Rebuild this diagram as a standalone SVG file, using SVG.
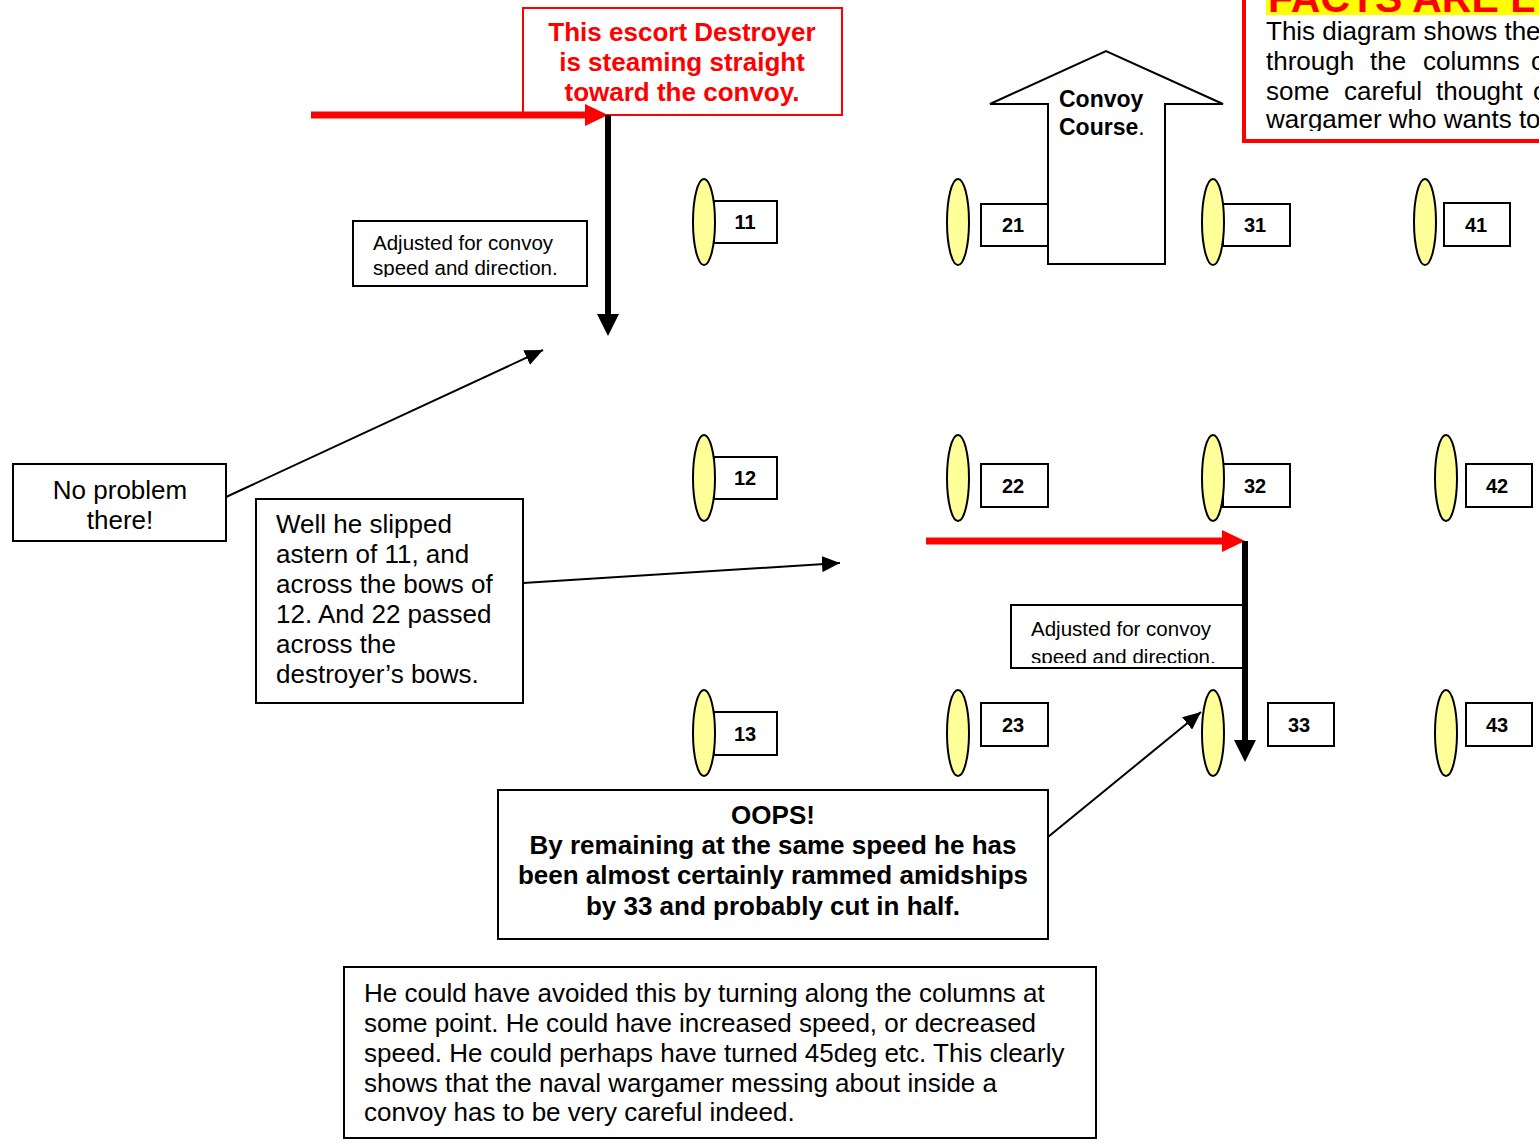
<svg xmlns="http://www.w3.org/2000/svg" width="1539" height="1143" viewBox="0 0 1539 1143">
  <style>
    text { font-family: "Liberation Sans", Arial, sans-serif; fill: #000; }
    .box { fill: #fff; stroke: #000; stroke-width: 2; }
    .ship { fill: #ffff99; stroke: #000; stroke-width: 2; }
    .num { font-size: 20px; font-weight: bold; text-anchor: middle; }
    .note { font-size: 26px; }
    .small { font-size: 20.5px; }
    .bold { font-weight: bold; }
    .mid { text-anchor: middle; }
    .red { fill: #ff0000; }
    .lead { stroke: #000; stroke-width: 2; fill: none; }
  </style>
  <defs>
    <marker id="tip" markerUnits="userSpaceOnUse" markerWidth="20" markerHeight="16" refX="18" refY="8" orient="auto">
      <path d="M0,0 L18,8 L0,16 Z" fill="#000"/>
    </marker>
    <clipPath id="clipAdj1"><rect x="354" y="222" width="232" height="55"/></clipPath>
    <clipPath id="clipAdj2"><rect x="1012" y="606" width="231" height="57"/></clipPath>
    <clipPath id="clipFacts"><rect x="1246" y="0" width="293" height="131"/></clipPath>
    <clipPath id="clipHead"><rect x="1246" y="0" width="293" height="15"/></clipPath>
  </defs>

  <rect width="1539" height="1143" fill="#fff"/>

  <!-- Facts panel at top right -->
  <g id="facts">
    <rect x="1244" y="-10" width="310" height="151" fill="#fff" stroke="#ff0000" stroke-width="4"/>
    <rect x="1266" y="0" width="273" height="15" fill="#ffff00"/>
    <g clip-path="url(#clipHead)">
      <text x="1268" y="12" font-size="41" class="bold red">FACTS ARE L</text>
    </g>
    <g clip-path="url(#clipFacts)" class="note">
      <text x="1266" y="40">This diagram shows the</text>
      <text y="70"><tspan x="1266">through</tspan><tspan x="1370">the</tspan><tspan x="1423">columns</tspan><tspan x="1531">o</tspan></text>
      <text y="100"><tspan x="1266">some</tspan><tspan x="1344">careful</tspan><tspan x="1436">thought</tspan><tspan x="1533">o</tspan></text>
      <text x="1266" y="128">wargamer who wants to</text>
    </g>
  </g>

  <!-- Escort caption -->
  <g id="escort-label">
    <rect x="523" y="8" width="319" height="107" fill="#fff" stroke="#ff0000" stroke-width="2"/>
    <text class="note bold red mid" x="682" y="41">This escort Destroyer</text>
    <text class="note bold red mid" x="682" y="71">is steaming straight</text>
    <text class="note bold red mid" x="682" y="101">toward the convoy.</text>
  </g>

  <!-- Convoy course arrow -->
  <g id="convoy-course">
    <polygon points="990,104 1106,51 1223,104 1165,104 1165,264 1048,264 1048,104" fill="#fff" stroke="#000" stroke-width="2"/>
    <text x="1059" y="107" font-size="23" class="bold">Convoy</text>
    <text x="1059" y="135" font-size="23"><tspan class="bold">Course</tspan>.</text>
  </g>

  <!-- Ships: hull + pennant number -->
  <g id="ship-11"><rect class="box" x="714" y="201" width="63" height="42"/><ellipse class="ship" cx="704" cy="222" rx="11" ry="43"/><text class="num" x="745" y="229">11</text></g>
  <g id="ship-21"><rect class="box" x="981" y="204" width="67" height="42"/><ellipse class="ship" cx="958" cy="222" rx="11" ry="43"/><text class="num" x="1013" y="232">21</text></g>
  <g id="ship-31"><rect class="box" x="1223" y="204" width="67" height="42"/><ellipse class="ship" cx="1213" cy="222" rx="11" ry="43"/><text class="num" x="1255" y="232">31</text></g>
  <g id="ship-41"><rect class="box" x="1444" y="203" width="66" height="43"/><ellipse class="ship" cx="1425" cy="222" rx="11" ry="43"/><text class="num" x="1476" y="232">41</text></g>

  <g id="ship-12"><rect class="box" x="714" y="457" width="63" height="42"/><ellipse class="ship" cx="704" cy="478" rx="11" ry="43"/><text class="num" x="745" y="485">12</text></g>
  <g id="ship-22"><rect class="box" x="981" y="464" width="67" height="43"/><ellipse class="ship" cx="958" cy="478" rx="11" ry="43"/><text class="num" x="1013" y="493">22</text></g>
  <g id="ship-32"><rect class="box" x="1223" y="464" width="67" height="43"/><ellipse class="ship" cx="1213" cy="478" rx="11" ry="43"/><text class="num" x="1255" y="493">32</text></g>
  <g id="ship-42"><rect class="box" x="1466" y="464" width="66" height="43"/><ellipse class="ship" cx="1446" cy="478" rx="11" ry="43"/><text class="num" x="1497" y="493">42</text></g>

  <g id="ship-13"><rect class="box" x="714" y="712" width="63" height="43"/><ellipse class="ship" cx="704" cy="733" rx="11" ry="43"/><text class="num" x="745" y="741">13</text></g>
  <g id="ship-23"><rect class="box" x="981" y="703" width="67" height="43"/><ellipse class="ship" cx="958" cy="733" rx="11" ry="43"/><text class="num" x="1013" y="732">23</text></g>
  <g id="ship-33"><rect class="box" x="1268" y="703" width="66" height="43"/><ellipse class="ship" cx="1213" cy="733" rx="11" ry="43"/><text class="num" x="1299" y="732">33</text></g>
  <g id="ship-43"><rect class="box" x="1466" y="703" width="66" height="43"/><ellipse class="ship" cx="1446" cy="733" rx="11" ry="43"/><text class="num" x="1497" y="732">43</text></g>

  <!-- Notes -->
  <g id="adjusted-1">
    <rect class="box" x="353" y="221" width="234" height="65"/>
    <g clip-path="url(#clipAdj1)" class="small">
      <text x="373" y="250">Adjusted for convoy</text>
      <text x="373" y="275">speed and direction.</text>
    </g>
  </g>

  <g id="adjusted-2">
    <rect class="box" x="1011" y="605" width="233" height="63"/>
    <g clip-path="url(#clipAdj2)" class="small">
      <text x="1031" y="636">Adjusted for convoy</text>
      <text x="1031" y="664">speed and direction.</text>
    </g>
  </g>

  <g id="no-problem">
    <rect class="box" x="13" y="464" width="213" height="77"/>
    <text class="note mid" x="120" y="499">No problem</text>
    <text class="note mid" x="120" y="529">there!</text>
  </g>

  <g id="slipped">
    <rect class="box" x="256" y="499" width="267" height="204"/>
    <text class="note" x="276" y="533">Well he slipped</text>
    <text class="note" x="276" y="563">astern of 11, and</text>
    <text class="note" x="276" y="593">across the bows of</text>
    <text class="note" x="276" y="623">12. And 22 passed</text>
    <text class="note" x="276" y="653">across the</text>
    <text class="note" x="276" y="683">destroyer’s bows.</text>
  </g>

  <g id="oops">
    <rect class="box" x="498" y="790" width="550" height="149"/>
    <text class="note bold mid" x="773" y="824">OOPS!</text>
    <text class="note bold mid" x="773" y="854">By remaining at the same speed he has</text>
    <text class="note bold mid" x="773" y="884">been almost certainly rammed amidships</text>
    <text class="note bold mid" x="773" y="915">by 33 and probably cut in half.</text>
  </g>

  <g id="summary">
    <rect class="box" x="344" y="967" width="752" height="171"/>
    <text class="note" x="364" y="1002">He could have avoided this by turning along the columns at</text>
    <text class="note" x="364" y="1032">some point. He could have increased speed, or decreased</text>
    <text class="note" x="364" y="1062">speed. He could perhaps have turned 45deg etc. This clearly</text>
    <text class="note" x="364" y="1092">shows that the naval wargamer messing about inside a</text>
    <text class="note" x="364" y="1121">convoy has to be very careful indeed.</text>
  </g>

  <!-- Connectors: destroyer tracks and leader lines -->
  <g id="connectors">
    <!-- first pass: approach (red) then drift with convoy (black) -->
    <line x1="311" y1="115" x2="588" y2="115" stroke="#ff0000" stroke-width="7"/>
    <polygon points="585,104 608,115 585,126" fill="#ff0000"/>
    <line x1="608" y1="115" x2="608" y2="316" stroke="#000" stroke-width="6"/>
    <polygon points="597,314 608,336 619,314" fill="#000"/>

    <!-- second pass -->
    <line x1="926" y1="541" x2="1225" y2="541" stroke="#ff0000" stroke-width="7"/>
    <polygon points="1222,530 1245,541 1222,552" fill="#ff0000"/>
    <line x1="1245" y1="541" x2="1245" y2="742" stroke="#000" stroke-width="6"/>
    <polygon points="1234,740 1245,762 1256,740" fill="#000"/>

    <!-- leader lines -->
    <line class="lead" x1="226" y1="497" x2="543" y2="350" marker-end="url(#tip)"/>
    <line class="lead" x1="523" y1="583" x2="840" y2="563" marker-end="url(#tip)"/>
    <line class="lead" x1="1048" y1="837" x2="1201" y2="712" marker-end="url(#tip)"/>
  </g>
</svg>
